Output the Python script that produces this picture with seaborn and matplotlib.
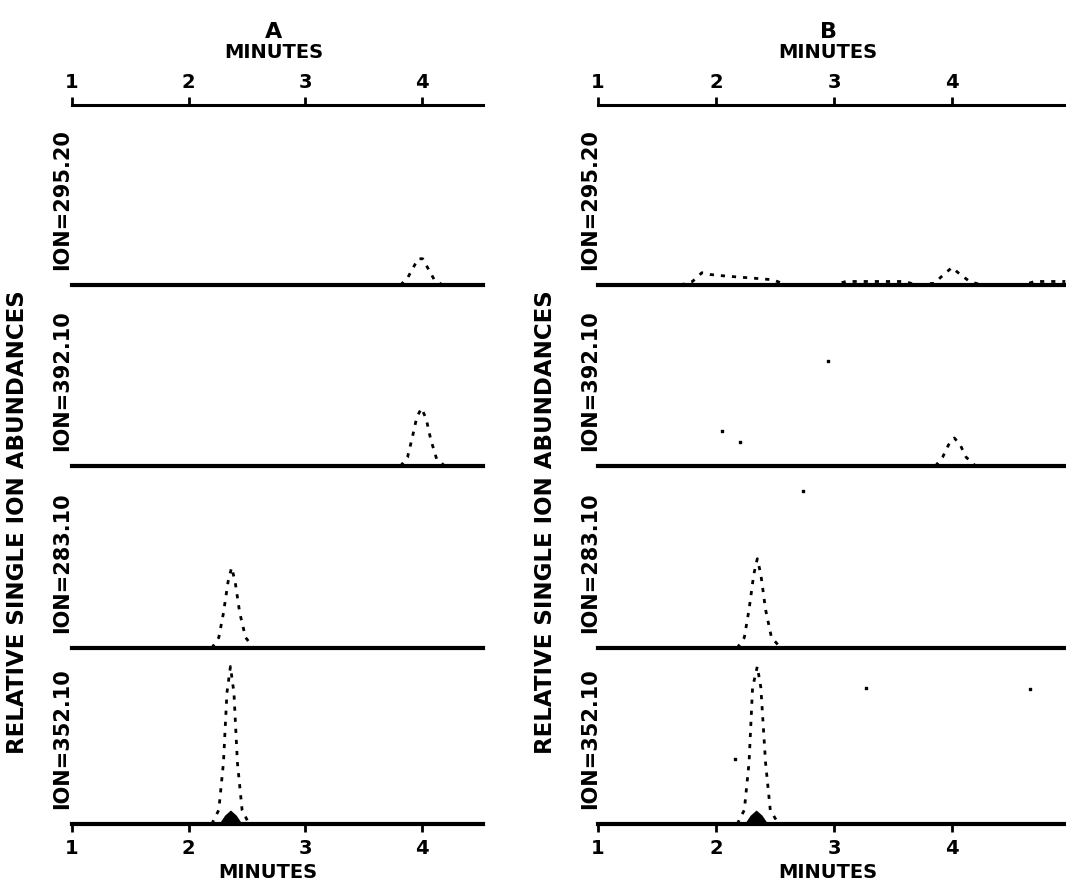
import numpy as np
import matplotlib
matplotlib.use('Agg')
import matplotlib.pyplot as plt
import seaborn as sns

sns.set_style('white')
plt.rcParams['font.family'] = ['DejaVu Sans']
plt.rcParams['font.weight'] = 'bold'
plt.rcParams['text.color'] = 'black'
plt.rcParams['axes.edgecolor'] = 'black'
plt.rcParams['xtick.color'] = 'black'
plt.rcParams['xtick.labelcolor'] = 'black'

# ion channels (top to bottom)
ions = ['ION=295.20', 'ION=392.10', 'ION=283.10', 'ION=352.10']
tick_minutes = [1, 2, 3, 4]

# column A traces: (minutes, relative abundance)
a_295_t = [3.82, 3.88, 3.93, 3.97, 4.01, 4.06, 4.11, 4.18]
a_295_y = [0, 4, 10, 15, 15, 9, 3, 0]
a_392_t = [3.82, 3.88, 3.92, 3.96, 4.00, 4.04, 4.08, 4.13, 4.20]
a_392_y = [0, 5, 16, 28, 33, 27, 15, 4, 0]
a_283_t = [2.20, 2.26, 2.30, 2.34, 2.37, 2.40, 2.44, 2.49, 2.56]
a_283_y = [0, 6, 20, 38, 46, 38, 20, 6, 0]
a_352_t = [2.20, 2.26, 2.30, 2.33, 2.36, 2.39, 2.42, 2.46, 2.52]
a_352_y = [0, 8, 35, 75, 90, 75, 35, 8, 0]
a_352_small_t = [2.26, 2.31, 2.36, 2.41, 2.46]
a_352_small_y = [0, 5, 8, 5, 0]

# column B traces
b_295_t = [1.70, 1.80, 1.88, 1.95, 2.10, 2.30, 2.48, 2.60, 3.00, 3.10, 3.60, 3.70,
           3.85, 3.93, 4.00, 4.07, 4.15, 4.25, 4.60, 4.70, 4.96]
b_295_y = [0, 2, 7, 6, 5, 4, 3, 0, 0, 2, 2, 0,
           1, 6, 10, 6, 2, 0, 0, 2, 2]
b_392_t = [3.86, 3.92, 3.97, 4.02, 4.07, 4.12, 4.20]
b_392_y = [0, 5, 12, 16, 12, 5, 0]
b_283_t = [2.18, 2.24, 2.28, 2.32, 2.35, 2.38, 2.42, 2.47, 2.55]
b_283_y = [0, 6, 22, 42, 51, 42, 22, 6, 0]
b_352_t = [2.18, 2.24, 2.28, 2.31, 2.35, 2.38, 2.42, 2.46, 2.53]
b_352_y = [0, 8, 35, 78, 90, 78, 35, 8, 0]
b_352_small_t = [2.24, 2.29, 2.34, 2.39, 2.44]
b_352_small_y = [0, 5, 8, 5, 0]

# stray specks in column B (panel index, minutes, abundance)
speck_panel = [1, 1, 1, 2, 3, 3, 3]
speck_t = [2.05, 2.95, 2.2, 2.74, 3.27, 4.66, 2.16]
speck_y = [20, 60, 14, 90, 78, 77, 37]

W, H = 1066, 884


def fx(px):
    return px / W


def fy(py):
    return 1 - py / H


fig = plt.figure(figsize=(10.66, 8.84), dpi=100)

columns = [
    dict(name='A', x0=72, ppm=116.5, xend=4.53,
         traces=[[(a_295_t, a_295_y)], [(a_392_t, a_392_y)],
                 [(a_283_t, a_283_y)], [(a_352_t, a_352_y)]],
         small=(a_352_small_t, a_352_small_y), label_x=62, ylab_x=18,
         title_x=274, bottom_x=268),
    dict(name='B', x0=598, ppm=118, xend=4.97,
         traces=[[(b_295_t, b_295_y)], [(b_392_t, b_392_y)],
                 [(b_283_t, b_283_y)], [(b_352_t, b_352_y)]],
         small=(b_352_small_t, b_352_small_y), label_x=590, ylab_x=546,
         title_x=828, bottom_x=828),
]

baselines = [285, 466, 648, 824]
panel_h = 175

for col in columns:
    left = fx(col['x0'])
    width = (col['xend'] - 1.0) * col['ppm'] / W

    # top minutes axis
    top = fig.add_axes([left, fy(105), width, 0.0001])
    top.patch.set_alpha(0)
    for s in ['left', 'right', 'bottom']:
        top.spines[s].set_visible(False)
    top.spines['top'].set_linewidth(2.2)
    top.set_xlim(1.0, col['xend'])
    top.set_yticks([])
    top.xaxis.tick_top()
    top.set_xticks(tick_minutes)
    top.tick_params(axis='x', direction='out', length=6, width=2, pad=3,
                    labelsize=14)
    fig.text(fx(col['title_x']), fy(32), col['name'], ha='center', va='center',
             fontsize=16, fontweight='bold')
    fig.text(fx(col['title_x']), fy(53), 'MINUTES', ha='center', va='center',
             fontsize=14, fontweight='bold')

    for i, base in enumerate(baselines):
        ax = fig.add_axes([left, fy(base), width, panel_h / H])
        ax.patch.set_alpha(0)
        ax.set_xlim(1.0, col['xend'])
        ax.set_ylim(0, 100)
        for s in ['left', 'right', 'top']:
            ax.spines[s].set_visible(False)
        ax.spines['bottom'].set_linewidth(3)
        ax.set_yticks([])
        for t, y in col['traces'][i]:
            sns.lineplot(x=t, y=y, ax=ax, color='black', linewidth=2,
                         linestyle=(0, (1.5, 2.5)), clip_on=False, sort=False)
        if i == 3:
            st, sy = col['small']
            ax.fill_between(st, 0, sy, color='black', lw=0)
            ax.set_xticks(tick_minutes)
            ax.tick_params(axis='x', direction='out', length=6, width=2,
                           pad=5, labelsize=14, bottom=True)
        else:
            ax.set_xticks([])
        if col['name'] == 'B':
            sel = [k for k, p in enumerate(speck_panel) if p == i]
            if sel:
                ax.scatter([speck_t[k] for k in sel], [speck_y[k] for k in sel],
                           s=4, color='black', marker='s')
        ax.set_xlabel('')
        ax.set_ylabel('')
        fig.text(fx(col['label_x']), fy(base - 85), ions[i], rotation=90,
                 ha='center', va='center', fontsize=15, fontweight='bold')

    fig.text(fx(col['ylab_x']), fy(522), 'RELATIVE SINGLE ION ABUNDANCES',
             rotation=90, ha='center', va='center', fontsize=16.5,
             fontweight='bold')
    fig.text(fx(col['bottom_x']), fy(873), 'MINUTES', ha='center',
             va='center', fontsize=14, fontweight='bold')

fig.savefig('out.png', dpi=100)
